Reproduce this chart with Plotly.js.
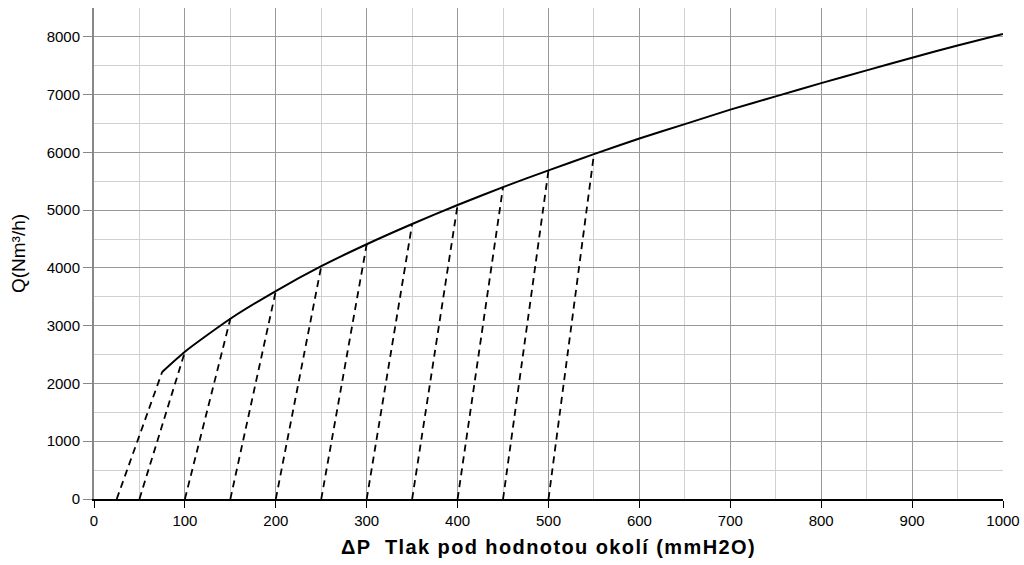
<!DOCTYPE html>
<html><head><meta charset="utf-8">
<script src="https://cdn.plot.ly/plotly-3.0.1.min.js"></script>
<style>html,body{margin:0;padding:0;background:#fff}#chart{width:1024px;height:565px}
.xtitle{letter-spacing:1.4px}</style>
</head><body><div id="chart"></div>
<script>
// Main characteristic curve: ΔP (mmH2O) vs Q (Nm3/h)
const curveDP = [75, 100, 150, 200, 250, 300, 350, 400, 450, 500, 550, 600, 650, 700, 750, 800, 850, 900, 950, 1000];
const curveQ  = [2200, 2550, 3120, 3600, 4030, 4410, 4760, 5090, 5400, 5690, 5970, 6240, 6490, 6740, 6970, 7200, 7420, 7640, 7850, 8050];
// Dashed lines: start ΔP at Q=0, end ΔP and Q on curve
const dashStartDP = [25, 50, 100, 150, 200, 250, 300, 350, 400, 450, 500];
const dashEndDP   = [75, 100, 150, 200, 250, 300, 350, 400, 450, 500, 550];
const dashEndQ    = [2200, 2550, 3120, 3600, 4030, 4410, 4760, 5090, 5400, 5690, 5970];

const traces = [];
for (let i = 0; i < dashStartDP.length; i++) {
  traces.push({x:[dashStartDP[i], dashEndDP[i]], y:[0, dashEndQ[i]], mode:'lines',
    line:{color:'#000', width:1.8, dash:'7px,5px'}, hoverinfo:'skip', showlegend:false});
}
traces.push({x:curveDP, y:curveQ, mode:'lines', line:{color:'#000', width:2, shape:'spline', smoothing:0.6}, showlegend:false});

const fam = '"Liberation Sans", Arial, sans-serif';
const layout = {
  width:1024, height:565,
  margin:{l:94, r:21, t:8, b:66},
  paper_bgcolor:'#fff', plot_bgcolor:'#fff',
  font:{family:fam, size:16, color:'#000'},
  showlegend:false,
  xaxis:{
    range:[0,1000], dtick:100, tick0:0,
    showgrid:true, gridcolor:'#999', gridwidth:1,
    minor:{dtick:50, showgrid:true, gridcolor:'#d0d0d0', gridwidth:1},
    showline:true, linecolor:'#000', linewidth:2,
    ticks:'outside', ticklen:7, tickcolor:'#000',
    zeroline:false,
    tickfont:{family:fam, size:15, color:'#000'},
    title:{text:'ΔP  Tlak pod hodnotou okolí (mmH2O)', standoff:12,
      font:{family:fam, size:20, color:'#000', weight:'bold'}}
  },
  yaxis:{
    range:[0,8500], dtick:1000, tick0:0,
    showgrid:true, gridcolor:'#999', gridwidth:1,
    minor:{dtick:500, showgrid:true, gridcolor:'#d0d0d0', gridwidth:1},
    showline:true, linecolor:'#888', linewidth:2,
    ticks:'outside', ticklen:9, tickcolor:'#888',
    zeroline:false,
    tickfont:{family:fam, size:15, color:'#000'},
    title:{text:'Q(Nm³/h)', standoff:16, font:{family:fam, size:19, color:'#000'}}
  }
};
Plotly.newPlot('chart', traces, layout, {displayModeBar:false, staticPlot:true});
</script></body></html>
